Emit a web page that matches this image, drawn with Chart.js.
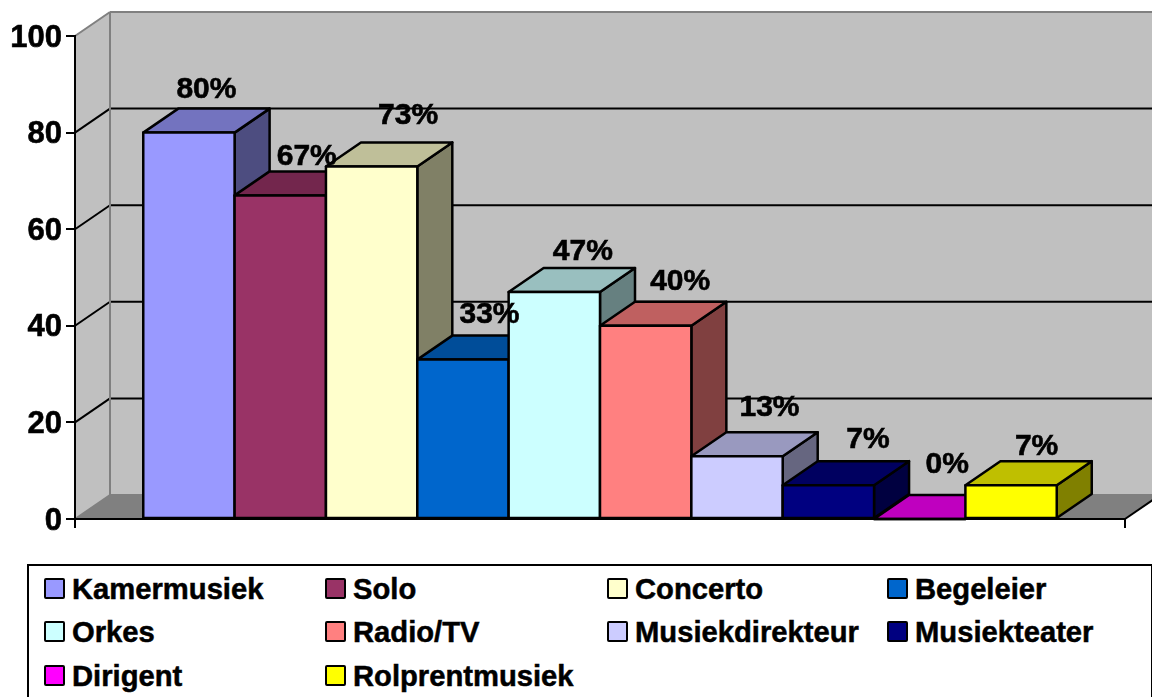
<!DOCTYPE html>
<html>
<head>
<meta charset="utf-8">
<script src="https://cdn.jsdelivr.net/npm/chart.js@4"></script>
<style>
  html, body { margin: 0; padding: 0; background: #fff; overflow: hidden; }
  #wrap { position: relative; width: 1152px; height: 697px; overflow: hidden; }
  canvas { display: block; }
  #legend {
    position: absolute; left: 27px; top: 564px; width: 1122px; height: 150px;
    border: 2px solid #000; background: #fff;
    font: bold 29.2px "Liberation Sans", Arial, sans-serif; color: #000;
    -webkit-text-stroke: 0.5px #000;
  }
  .item { position: absolute; height: 32px; line-height: 32px; white-space: nowrap; }
  .item i {
    position: absolute; left: 0; top: 6px; width: 17px; height: 17px;
    border: 2px solid #000; border-radius: 2px;
  }
  .item span { position: absolute; left: 28px; top: 1px; }
</style>
</head>
<body>
<div id="wrap">
  <canvas id="c" width="1152" height="697"></canvas>
  <div id="legend"></div>
</div>
<script>
const categories = [''];
const seriesNames = ['Kamermusiek', 'Solo', 'Concerto', 'Begeleier', 'Orkes', 'Radio/TV',
  'Musiekdirekteur', 'Musiekteater', 'Dirigent', 'Rolprentmusiek'];
const seriesValues = [80, 67, 73, 33, 47, 40, 13, 7, 0, 7];
const seriesColors = ['#9999FF', '#993366', '#FFFFCC', '#0066CC', '#CCFFFF', '#FF8080',
  '#CCCCFF', '#000080', '#FF00FF', '#FFFF00'];

// the value labels don't sit regularly above the bars, nudges per bar
const labelNudge = [[0, 1], [9, 5], [19, -7], [9, -1], [11, 4], [17, 0], [15, -4], [22, -1], [10, -10], [8, 6]];

const DX = 35, DY = 24; // depth of the fake 3d
const FAMILY = '"Liberation Sans", Arial, sans-serif';
const BAR_LINE = 2.5;

function shade(hex, f) {
  const n = parseInt(hex.slice(1), 16);
  const r = Math.round((n >> 16 & 255) * f), g = Math.round((n >> 8 & 255) * f), b = Math.round((n & 255) * f);
  return `rgb(${r},${g},${b})`;
}

function poly(ctx, pts, fill, stroke, lw) {
  ctx.beginPath();
  pts.forEach((p, i) => (i ? ctx.lineTo(p[0], p[1]) : ctx.moveTo(p[0], p[1])));
  ctx.closePath();
  if (fill) { ctx.fillStyle = fill; ctx.fill(); }
  if (stroke) { ctx.strokeStyle = stroke; ctx.lineWidth = lw; ctx.lineJoin = 'round'; ctx.stroke(); }
}

function line(ctx, x1, y1, x2, y2, color, lw) {
  ctx.beginPath();
  ctx.moveTo(x1, y1);
  ctx.lineTo(x2, y2);
  ctx.strokeStyle = color;
  ctx.lineWidth = lw;
  ctx.stroke();
}

const box3d = {
  id: 'box3d',
  // walls and floor go under the axes
  beforeDraw(chart) {
    const { ctx, chartArea: a, scales: { y } } = chart;
    const y0 = y.getPixelForValue(0), yMax = y.getPixelForValue(100);
    ctx.save();
    poly(ctx, [[a.left + DX, yMax - DY], [a.right + DX, yMax - DY], [a.right + DX, y0 - DY], [a.left + DX, y0 - DY]], '#C0C0C0');
    poly(ctx, [[a.left, yMax], [a.left + DX, yMax - DY], [a.left + DX, y0 - DY], [a.left, y0]], '#C0C0C0');
    poly(ctx, [[a.left, y0], [a.left + DX, y0 - DY], [a.right + DX, y0 - DY], [a.right, y0]], '#808080');
    y.ticks.forEach((t) => {
      if (t.value === 0 || t.value === 100) return;
      const py = y.getPixelForValue(t.value);
      line(ctx, a.left, py, a.left + DX, py - DY, '#000', 2);
      line(ctx, a.left + DX, py - DY, a.right + DX, py - DY, '#000', 2);
    });
    line(ctx, a.left, yMax, a.left + DX, yMax - DY, '#808080', 2);
    line(ctx, a.left + DX, yMax - DY, a.right + DX, yMax - DY, '#808080', 2);
    line(ctx, a.left + DX, yMax - DY, a.left + DX, y0 - DY, '#808080', 2);
    line(ctx, a.left, y0, a.left + DX, y0 - DY, '#808080', 2);
    line(ctx, a.left + DX, y0 - DY, a.right + DX, y0 - DY, '#808080', 2);
    line(ctx, a.right, y0, a.right + DX, y0 - DY, '#000', 2);
    ctx.restore();
  },
  // chart.js paints dataset 0 last, here the later bars must cover the earlier ones
  beforeDatasetsDraw(chart) {
    const { ctx } = chart;
    chart.getSortedVisibleDatasetMetas().forEach((meta) => {
      const bar = meta.data[0];
      const col = chart.data.datasets[meta.index].backgroundColor;
      const l = bar.x - bar.width / 2, r = bar.x + bar.width / 2;
      ctx.save();
      if (bar.base - bar.y > 0) {
        poly(ctx, [[r, bar.y], [r + DX, bar.y - DY], [r + DX, bar.base - DY], [r, bar.base]], shade(col, 0.5), '#000', BAR_LINE);
      }
      poly(ctx, [[l, bar.y], [l + DX, bar.y - DY], [r + DX, bar.y - DY], [r, bar.y]], shade(col, 0.75), '#000', BAR_LINE);
      meta.controller.draw();
      poly(ctx, [[l, bar.y], [r, bar.y], [r, bar.base], [l, bar.base]], null, '#000', BAR_LINE);
      ctx.restore();
    });
    return false;
  },
  afterDraw(chart) {
    const { ctx } = chart;
    ctx.save();
    ctx.font = `bold 30px ${FAMILY}`;
    ctx.fillStyle = '#000';
    ctx.strokeStyle = '#000';
    ctx.lineWidth = 0.6;
    ctx.textAlign = 'center';
    ctx.textBaseline = 'middle';
    chart.data.datasets.forEach((ds, i) => {
      const bar = chart.getDatasetMeta(i).data[0];
      const [nx, ny] = labelNudge[i];
      const tx = bar.x + DX / 2 + nx, ty = bar.y - DY - 20 + ny;
      ctx.fillText(ds.data[0] + '%', tx, ty);
      ctx.strokeText(ds.data[0] + '%', tx, ty);
    });
    ctx.restore();
  },
};

const chart = new Chart(document.getElementById('c'), {
  type: 'bar',
  data: {
    labels: categories,
    datasets: seriesNames.map((name, i) => ({
      label: name,
      data: [seriesValues[i]],
      backgroundColor: seriesColors[i],
      borderWidth: 0,
      categoryPercentage: 0.87,
      barPercentage: 1,
    })),
  },
  options: {
    responsive: false,
    animation: false,
    layout: { padding: { top: 36, right: 27, bottom: 169, left: 0 } },
    plugins: { legend: { display: false }, tooltip: { enabled: false } },
    scales: {
      x: {
        ticks: { display: false },
        grid: { drawOnChartArea: false, color: '#000', lineWidth: 2, tickLength: 9 },
        border: { color: '#000', width: 2 },
        afterFit: (s) => { s.height = 9; },
      },
      y: {
        min: 0,
        max: 100,
        ticks: {
          stepSize: 20, color: '#000', padding: 4, labelOffset: 2,
          textStrokeColor: '#000', textStrokeWidth: 0.6,
          font: { family: FAMILY, size: 31, weight: 'bold' },
        },
        grid: { drawOnChartArea: false, color: '#000', lineWidth: 2, tickLength: 9 },
        border: { color: '#000', width: 2 },
        afterFit: (s) => { s.width = 75; },
      },
    },
  },
  plugins: [box3d],
});

// legend box under the chart, 4 columns
const legendEl = document.getElementById('legend');
const colX = [15, 296, 578, 858];
const rowY = [6, 49, 93];
legendEl.innerHTML = chart.data.datasets.map((ds, i) => {
  const x = colX[i % 4], y = rowY[Math.floor(i / 4)];
  return `<div class="item" style="left:${x}px;top:${y}px"><i style="background:${ds.backgroundColor}"></i><span>${ds.label}</span></div>`;
}).join('');
</script>
</body>
</html>
